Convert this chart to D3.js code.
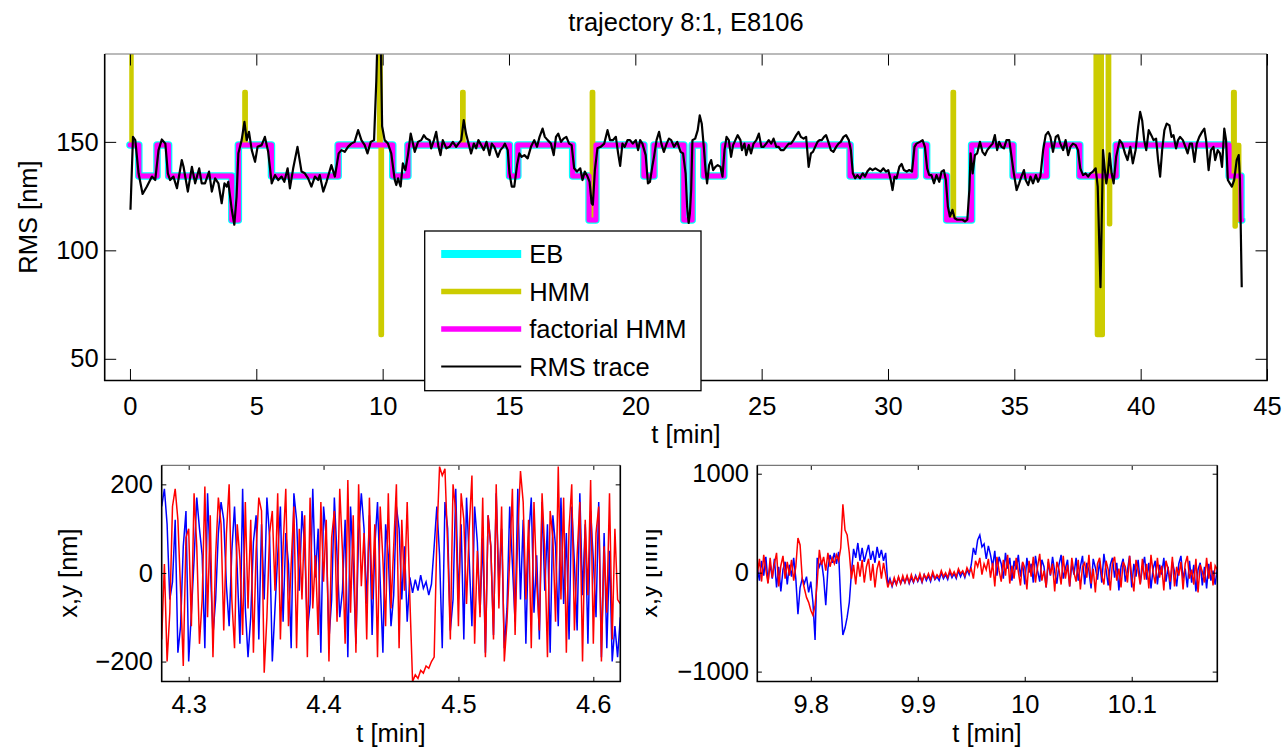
<!DOCTYPE html>
<html>
<head>
<meta charset="utf-8">
<script src="https://cdn.jsdelivr.net/npm/d3@7"></script>
<style>
  body { margin: 0; background: #fff; }
  svg { display: block; }
</style>
</head>
<body>
<div id="chart"></div>
<script>
// ---------- data ----------

// top panel: EB and factorial HMM states coincide, so they share one step trace
const stateTime = [0, 0.35, 1.07, 1.53, 4.03, 4.29, 5.60, 8.24, 10.40, 11.00, 15.02, 15.35, 17.52, 18.17, 18.44,
  20.34, 20.74, 21.92, 22.25, 22.71, 23.50, 28.50, 31.07, 31.53, 32.32, 33.31, 34.95, 36.27, 37.59, 39.03,
  43.50, 43.97, 44.00];
const stateLevel = [148.5, 134.3, 148.5, 134.3, 114, 148.5, 134.3, 148.5, 134.3, 148.5, 134.3, 148.5, 134.3, 114, 148.5,
  134.3, 148.5, 114, 148.5, 134.3, 148.5, 134.3, 148.5, 134.3, 114, 148.5, 134.3, 148.5, 134.3, 148.5,
  134.3, 114, 114];

// plain HMM: same states plus short excursions
const hmmTime = [0, 0.06, 0.35, 1.07, 1.53, 4.03, 4.29, 4.53, 4.58, 5.60, 8.24, 9.86, 9.92, 9.97, 10.40, 11.00,
  13.15, 13.20, 15.02, 15.35, 17.52, 18.17, 18.28, 18.33, 18.44, 20.34, 20.74, 21.92, 22.25, 22.71, 23.50,
  28.50, 31.07, 31.53, 32.32, 32.56, 32.61, 33.31, 34.95, 36.27, 37.59, 38.22, 38.27, 38.32, 38.37, 38.42,
  38.46, 38.50, 38.70, 38.75, 38.79, 39.03, 43.50, 43.66, 43.72, 43.76, 43.90, 44.00];
const hmmLevel = [200, 148.5, 134.3, 148.5, 134.3, 114, 148.5, 173, 148.5, 134.3, 148.5, 200, 61, 148.5, 134.3, 148.5,
  173, 148.5, 134.3, 148.5, 134.3, 114, 173, 114, 148.5, 134.3, 148.5, 114, 148.5, 134.3, 148.5,
  134.3, 148.5, 134.3, 114, 173, 114, 148.5, 134.3, 148.5, 134.3, 200, 61, 200, 61, 200,
  61, 134.3, 200, 112, 134.3, 148.5, 134.3, 173, 111, 148.5, 114, 114];

const rmsTime = [0.02, 0.12, 0.21, 0.34, 0.50, 0.67, 0.87, 1.00, 1.13, 1.26, 1.40, 1.50, 1.59, 1.72, 1.86, 2.05,
  2.12, 2.29, 2.45, 2.58, 2.74, 2.84, 2.97, 3.13, 3.24, 3.37, 3.50, 3.63, 3.74, 3.83, 3.89, 4.03, 4.13, 4.22,
  4.29, 4.42, 4.53, 4.62, 4.71, 4.82, 4.95, 5.05, 5.21, 5.34, 5.47, 5.61, 5.74, 5.87, 6.00, 6.11, 6.24, 6.33,
  6.46, 6.63, 6.79, 6.92, 7.05, 7.18, 7.32, 7.45, 7.51, 7.65, 7.78, 7.97, 8.11, 8.26, 8.37, 8.50, 8.63, 8.76,
  8.89, 9.03, 9.16, 9.29, 9.40, 9.53, 9.66, 9.75, 9.80, 9.92, 9.98, 10.08, 10.21, 10.34, 10.48, 10.54, 10.61,
  10.71, 10.80, 10.90, 11.00, 11.11, 11.20, 11.27, 11.40, 11.53, 11.63, 11.73, 11.86, 11.92, 12.03, 12.12,
  12.21, 12.29, 12.38, 12.52, 12.65, 12.78, 12.91, 13.00, 13.11, 13.21, 13.30, 13.40, 13.50, 13.61, 13.70,
  13.79, 13.90, 14.00, 14.11, 14.23, 14.32, 14.42, 14.56, 14.66, 14.77, 14.84, 14.95, 15.02, 15.11, 15.21,
  15.32, 15.41, 15.50, 15.61, 15.74, 15.87, 16.00, 16.11, 16.21, 16.33, 16.42, 16.53, 16.66, 16.77, 16.86,
  16.95, 17.06, 17.16, 17.27, 17.38, 17.48, 17.58, 17.69, 17.82, 17.91, 18.00, 18.11, 18.19, 18.27, 18.32,
  18.40, 18.50, 18.63, 18.77, 18.90, 19.00, 19.11, 19.23, 19.32, 19.40, 19.49, 19.58, 19.69, 19.79, 19.90,
  20.02, 20.11, 20.19, 20.28, 20.41, 20.50, 20.58, 20.67, 20.74, 20.84, 20.94, 21.03, 21.13, 21.24, 21.33,
  21.42, 21.53, 21.66, 21.79, 21.89, 21.99, 22.05, 22.11, 22.16, 22.21, 22.26, 22.37, 22.47, 22.55, 22.63,
  22.71, 22.78, 22.84, 22.92, 23.00, 23.08, 23.17, 23.26, 23.37, 23.45, 23.53, 23.61, 23.70, 23.79, 23.87,
  23.96, 24.05, 24.16, 24.22, 24.32, 24.39, 24.49, 24.58, 24.68, 24.79, 24.89, 24.99, 25.08, 25.18, 25.28,
  25.38, 25.47, 25.58, 25.67, 25.76, 25.87, 25.97, 26.07, 26.16, 26.26, 26.37, 26.46, 26.55, 26.66, 26.76,
  26.86, 26.95, 27.03, 27.12, 27.21, 27.29, 27.38, 27.47, 27.55, 27.64, 27.74, 27.84, 27.95, 28.04, 28.13,
  28.24, 28.34, 28.45, 28.53, 28.61, 28.70, 28.79, 28.89, 29.00, 29.09, 29.18, 29.29, 29.39, 29.50, 29.61,
  29.71, 29.82, 29.92, 30.01, 30.11, 30.18, 30.26, 30.34, 30.45, 30.54, 30.63, 30.74, 30.84, 30.95, 31.05,
  31.13, 31.26, 31.37, 31.46, 31.55, 31.63, 31.72, 31.82, 31.92, 32.03, 32.12, 32.21, 32.29, 32.37, 32.45,
  32.55, 32.64, 32.74, 32.84, 32.95, 33.05, 33.14, 33.22, 33.27, 33.35, 33.44, 33.53, 33.64, 33.74, 33.84,
  33.93, 34.03, 34.14, 34.23, 34.32, 34.40, 34.49, 34.59, 34.69, 34.80, 34.89, 34.98, 35.09, 35.19, 35.28,
  35.38, 35.45, 35.55, 35.64, 35.74, 35.85, 35.94, 36.03, 36.14, 36.24, 36.34, 36.43, 36.53, 36.64, 36.73,
  36.82, 36.93, 37.03, 37.13, 37.22, 37.32, 37.43, 37.52, 37.61, 37.72, 37.82, 37.92, 38.01, 38.11, 38.22,
  38.30, 38.41, 38.51, 38.57, 38.64, 38.70, 38.77, 38.85, 38.93, 39.03, 39.17, 39.27, 39.38, 39.48, 39.59,
  39.69, 39.80, 39.90, 39.98, 40.06, 40.14, 40.22, 40.32, 40.42, 40.51, 40.61, 40.69, 40.77, 40.85, 40.94,
  41.03, 41.14, 41.22, 41.30, 41.40, 41.48, 41.56, 41.67, 41.77, 41.86, 41.95, 42.03, 42.13, 42.22, 42.32,
  42.43, 42.52, 42.59, 42.69, 42.78, 42.88, 42.95, 43.05, 43.14, 43.22, 43.31, 43.38, 43.45, 43.53, 43.61,
  43.70, 43.80, 43.88, 43.93, 44.00];
const rmsValue = [118.7, 152.3, 150.8, 135.5, 126.0, 129.4, 134.0, 132.4, 146.2, 151.1, 149.2, 135.5, 132.4, 134.0, 128.6, 141.6,
  138.5, 127.1, 138.5, 130.9, 137.8, 130.9, 130.9, 136.3, 127.1, 133.2, 130.9, 121.7, 130.9, 129.4, 131.6, 118.7, 111.8, 124.8,
  144.7, 150.8, 159.2, 150.8, 154.6, 146.2, 140.8, 147.7, 148.5, 152.3, 145.4, 130.9, 134.7, 132.4, 134.0, 131.6, 137.8, 128.6,
  137.8, 147.7, 136.3, 135.5, 133.2, 129.4, 134.0, 132.4, 134.7, 127.1, 131.6, 139.3, 134.0, 144.7, 146.2, 145.4, 147.7, 149.2,
  150.0, 155.4, 150.8, 148.5, 144.7, 150.0, 150.8, 178.3, 200, 200, 157.2, 150.8, 149.2, 144.7, 132.4, 130.1, 133.2,
  129.4, 140.1, 137.0, 143.9, 153.8, 149.2, 145.4, 150.0, 150.8, 153.1, 151.5, 150.8, 147.0, 150.8, 154.6,
  147.7, 143.9, 150.8, 147.0, 147.7, 150.0, 147.7, 149.2, 150.8, 160.0, 153.8, 149.2, 144.7, 149.2, 147.0,
  150.8, 148.5, 146.2, 150.0, 143.9, 149.2, 147.7, 143.1, 146.2, 147.7, 149.2, 146.2, 135.5, 129.4, 129.4,
  139.3, 144.7, 143.1, 143.9, 142.4, 147.7, 150.8, 147.7, 152.3, 156.1, 152.3, 150.8, 149.2, 143.9, 152.3,
  153.8, 150.0, 151.5, 152.3, 149.2, 148.5, 137.8, 136.3, 137.8, 132.4, 136.3, 134.0, 131.6, 121.7, 121.0,
  137.0, 147.0, 147.7, 149.2, 155.4, 150.8, 150.8, 152.3, 144.7, 138.9, 149.2, 147.7, 150.8, 150.8, 149.2,
  150.8, 146.2, 150.8, 149.2, 143.9, 130.9, 131.6, 138.5, 143.1, 150.8, 154.6, 149.2, 145.4, 149.2, 151.5,
  150.8, 147.7, 150.0, 145.4, 144.7, 135.5, 120.2, 112.6, 117.1, 127.8, 150.8, 151.5, 155.4, 162.2, 158.4,
  147.7, 137.0, 130.9, 139.3, 141.6, 137.0, 138.5, 139.3, 138.5, 134.0, 146.2, 152.3, 150.8, 143.1, 148.5,
  150.8, 153.1, 150.8, 146.2, 149.2, 143.9, 148.5, 144.7, 149.2, 150.8, 153.8, 147.7, 147.7, 149.2, 150.8,
  149.2, 151.5, 147.7, 147.7, 146.2, 146.2, 147.7, 149.2, 149.2, 150.8, 153.1, 154.6, 152.3, 151.5, 152.3,
  138.5, 144.7, 145.4, 147.7, 150.0, 150.8, 150.8, 152.3, 153.1, 150.0, 146.2, 145.4, 147.7, 149.2, 150.0,
  152.3, 153.1, 150.8, 146.2, 135.5, 133.2, 134.7, 133.2, 135.5, 134.0, 136.3, 137.8, 137.0, 137.8, 137.0,
  136.3, 137.8, 136.3, 137.0, 132.4, 127.8, 134.0, 133.2, 138.5, 139.8, 137.0, 136.3, 137.0, 136.3, 147.7,
  149.2, 150.0, 150.8, 147.7, 137.8, 134.7, 134.7, 130.9, 134.7, 131.6, 136.3, 137.0, 132.4, 120.2, 115.6,
  118.7, 114.8, 114.1, 114.1, 114.1, 113.3, 114.1, 127.8, 144.7, 135.5, 143.9, 144.7, 150.0, 145.4, 143.9,
  146.2, 147.7, 149.2, 153.1, 146.2, 150.0, 147.7, 147.0, 150.8, 150.8, 143.1, 135.5, 127.8, 130.9, 134.0,
  137.0, 132.4, 130.1, 134.0, 130.9, 134.7, 131.6, 134.0, 146.2, 153.1, 154.6, 152.3, 145.4, 152.3, 153.1,
  149.2, 146.2, 150.8, 143.9, 147.7, 149.2, 148.5, 146.2, 137.8, 134.7, 135.5, 134.0, 135.5, 136.3, 137.8,
  129.4, 83.0, 146.2, 138.5, 130.9, 135.5, 144.7, 135.5, 130.9, 143.1, 150.8, 149.2, 144.7, 141.6, 147.7,
  140.1, 146.2, 156.9, 163.8, 159.9, 150.8, 146.2, 155.4, 153.1, 150.8, 151.5, 141.6, 134.0, 146.2, 155.4,
  158.4, 157.6, 152.3, 153.1, 147.0, 150.8, 152.3, 150.8, 147.7, 144.7, 149.2, 149.2, 140.8, 149.2, 152.3,
  154.6, 156.1, 150.8, 137.0, 146.2, 147.7, 141.6, 146.2, 144.7, 138.5, 156.1, 150.8, 132.4, 130.9, 129.4,
  132.4, 141.6, 143.9, 132.4, 83.0];

const topXTicks = [0, 5, 10, 15, 20, 25, 30, 35, 40, 45];
const topYTicks = [50, 100, 150];
const legendLabels = ["EB", "HMM", "factorial HMM", "RMS trace"];

// bottom left: x (blue) and y (red) positions around t = 4.3 min
const leftTime = [4.280, 4.282, 4.284, 4.286, 4.288, 4.290, 4.292, 4.294, 4.296, 4.298,
  4.300, 4.302, 4.304, 4.306, 4.308, 4.310, 4.312, 4.314, 4.316, 4.318,
  4.320, 4.322, 4.324, 4.326, 4.328, 4.330, 4.332, 4.334, 4.336, 4.338,
  4.340, 4.342, 4.344, 4.346, 4.348, 4.350, 4.352, 4.354, 4.356, 4.358,
  4.360, 4.362, 4.364, 4.366, 4.368, 4.370, 4.372, 4.374, 4.376, 4.378,
  4.380, 4.382, 4.384, 4.386, 4.388, 4.390, 4.392, 4.394, 4.396, 4.398,
  4.400, 4.402, 4.404, 4.406, 4.408, 4.410, 4.412, 4.414, 4.416, 4.418,
  4.420, 4.422, 4.424, 4.426, 4.428, 4.430, 4.432, 4.434, 4.436, 4.438,
  4.440, 4.442, 4.444, 4.446, 4.448, 4.450, 4.452, 4.454, 4.456, 4.458,
  4.460, 4.462, 4.464, 4.466, 4.468, 4.470, 4.472, 4.474, 4.476, 4.478,
  4.480, 4.482, 4.484, 4.486, 4.488, 4.490, 4.492, 4.494, 4.496, 4.498,
  4.500, 4.502, 4.504, 4.506, 4.508, 4.510, 4.512, 4.514, 4.516, 4.518,
  4.520, 4.522, 4.524, 4.526, 4.528, 4.530, 4.532, 4.534, 4.536, 4.538,
  4.540, 4.542, 4.544, 4.546, 4.548, 4.550, 4.552, 4.554, 4.556, 4.558,
  4.560, 4.562, 4.564, 4.566, 4.568, 4.570, 4.572, 4.574, 4.576, 4.578,
  4.580, 4.582, 4.584, 4.586, 4.588, 4.590, 4.592, 4.594, 4.596, 4.598,
  4.600, 4.602, 4.604, 4.606, 4.608, 4.610, 4.612, 4.614, 4.616, 4.618,
  4.620];
const leftX = [150, 190, 110, -60, -20, 120, -180, -120, 60, 140,
  -200, -90, 30, 170, 100, 40, -170, 180, 20, -140,
  -60, 90, 160, 120, -30, -120, 50, 150, 10, -160,
  190, -80, -190, -100, 70, 130, -150, 110, -60, 170,
  80, -200, -80, 40, 150, -110, 90, 20, -170, 180,
  120, -40, 140, 60, -130, -70, 190, -10, 100, -180,
  150, 80, -150, -60, 170, 40, -100, -40, 120, -190,
  150, 20, -160, 90, 180, 100, -70, 130, -140, 60,
  160, -20, -180, 110, 40, -120, -50, 150, 100, -60,
  60, -110, -10, -45, -15, -40, -5, -35, -20, -50,
  -25, 60, 150, 40, -170, 160, 100, -130, -60, 190,
  -60, 110, -150, 170, 30, -120, 150, 70, -90, 80,
  -180, 130, 60, -140, 180, -30, 100, -170, -80, 150,
  20, -110, 190, -60, 120, -160, 80, 170, -90, 40,
  -150, 160, -40, 110, -180, 130, 60, -120, 170, -70,
  90, -150, 150, 20, -130, 180, -50, 110, -160, 140,
  30, -100, 160, -190, 90, -170, 50, -200, -120, -190,
  -100];
const leftY = [-150, 20, -200, -90, 150, 190, 120, -40, -210, 80,
  100, -120, 180, 60, -160, -60, 195, -100, 130, -190,
  40, 170, 110, -130, 90, 200, -60, -170, 110, 30,
  -140, 160, -80, 120, -180, 50, 170, 140, -225, -100,
  90, 140, -40, 180, -150, 60, 190, -120, 20, 150,
  -170, 100, -60, 130, -190, 170, -80, 40, -140, 160,
  -20, 120, -200, 80, 140, -110, 190, 50, -160, 210,
  -90, 130, -180, 200, -30, 90, -150, 170, -60, 110,
  -190, 150, 30, -120, 180, -80, 60, 200, -170, 120,
  -40, 160, -60, -245, -230, -238, -220, -226, -210, -215,
  -200, -190, 80, 240, 220, 235, 60, -150, 200, 140,
  -120, 180, 120, -70, 100, 220, -160, 50, -100, 170,
  -190, 130, 60, -150, 200, -80, 150, -200, -110, 30,
  190, -140, 90, 230, 160, -60, 120, -170, 160, -20,
  -130, 180, 50, -190, 140, 80, -110, 240, -60, 170,
  -180, 100, 200, -130, 40, 160, -200, 120, -50, 210,
  -160, 90, 150, -200, 60, -90, 180, -150, 100, -60,
  -70];
const leftXTicks = [4.3, 4.4, 4.5, 4.6];
const leftYTicks = [-200, 0, 200];

// bottom right: around t = 10 min
const rightTime = [9.750, 9.752, 9.754, 9.756, 9.758, 9.760, 9.762, 9.764, 9.766, 9.768,
  9.770, 9.772, 9.774, 9.776, 9.778, 9.780, 9.782, 9.784, 9.786, 9.788,
  9.790, 9.792, 9.794, 9.796, 9.798, 9.800, 9.802, 9.804, 9.806, 9.808,
  9.810, 9.812, 9.814, 9.816, 9.818, 9.820, 9.822, 9.824, 9.826, 9.828,
  9.830, 9.832, 9.834, 9.836, 9.838, 9.840, 9.842, 9.844, 9.846, 9.848,
  9.850, 9.852, 9.854, 9.856, 9.858, 9.860, 9.862, 9.864, 9.866, 9.868,
  9.870, 9.872, 9.874, 9.876, 9.878, 9.880, 9.882, 9.884, 9.886, 9.888,
  9.890, 9.892, 9.894, 9.896, 9.898, 9.900, 9.902, 9.904, 9.906, 9.908,
  9.910, 9.912, 9.914, 9.916, 9.918, 9.920, 9.922, 9.924, 9.926, 9.928,
  9.930, 9.932, 9.934, 9.936, 9.938, 9.940, 9.942, 9.944, 9.946, 9.948,
  9.950, 9.952, 9.954, 9.956, 9.958, 9.960, 9.962, 9.964, 9.966, 9.968,
  9.970, 9.972, 9.974, 9.976, 9.978, 9.980, 9.982, 9.984, 9.986, 9.988,
  9.990, 9.992, 9.994, 9.996, 9.998, 10.000, 10.002, 10.004, 10.006, 10.008,
  10.010, 10.012, 10.014, 10.016, 10.018, 10.020, 10.022, 10.024, 10.026, 10.028,
  10.030, 10.032, 10.034, 10.036, 10.038, 10.040, 10.042, 10.044, 10.046, 10.048,
  10.050, 10.052, 10.054, 10.056, 10.058, 10.060, 10.062, 10.064, 10.066, 10.068,
  10.070, 10.072, 10.074, 10.076, 10.078, 10.080, 10.082, 10.084, 10.086, 10.088,
  10.090, 10.092, 10.094, 10.096, 10.098, 10.100, 10.102, 10.104, 10.106, 10.108,
  10.110, 10.112, 10.114, 10.116, 10.118, 10.120, 10.122, 10.124, 10.126, 10.128,
  10.130, 10.132, 10.134, 10.136, 10.138, 10.140, 10.142, 10.144, 10.146, 10.148,
  10.150, 10.152, 10.154, 10.156, 10.158, 10.160, 10.162, 10.164, 10.166, 10.168,
  10.170, 10.172, 10.174, 10.176, 10.178, 10.180];
const rightX = [50, -80, 120, -30, 160, -100, 90, -60, 140, -150,
  60, -190, 30, 110, -120, 80, -40, 150, -60, -420,
  -150, -60, -110, -40, -200, -90, -300, -680, 150, 60,
  120, -50, -330, 40, 180, 100, 200, 90, 210, -300,
  -630, -560, -450, -300, 0, 240, 150, 300, 120, 250,
  110, 200, 280, 130, 220, 100, 260, 150, 230, 120,
  200, -120, -60, -140, -70, -120, -50, -110, -60, -100,
  -40, -110, -50, -100, -30, -90, -40, -100, -20, -80,
  -30, -90, -10, -70, -40, -80, 0, -60, -20, -70,
  10, -50, -10, -60, 20, -40, 10, -50, 30, -20,
  80, 250, 180, 330, 380, 260, 290, 140, 270, 180,
  60, 220, -30, 160, 90, -60, 200, 40, 150, -80,
  120, 30, 180, -40, 100, -120, 150, 0, 90, -100,
  170, 20, -90, 130, 60, -150, 110, -30, 160, 10,
  -110, 80, 180, -60, 40, 130, -140, 90, -20, 150,
  -80, 60, 170, -120, 100, 20, -160, 140, 50, -70,
  120, -100, 190, 30, -130, 80, 150, -50, 100, -180,
  60, 140, -90, 20, 170, -150, 90, -40, 130, -110,
  50, 160, -70, 100, -160, 40, 120, -120, 80, -20,
  150, -90, 60, -170, 110, 10, -140, 90, 170, -60,
  40, -150, 120, -100, 80, -190, 30, 100, -130, 60,
  -160, 90, -80, 20, -120, 40];
const rightY = [-20, 140, -90, 180, 30, -110, 150, -50, 90, 200,
  -140, 70, 170, -60, 110, -30, 130, -80, 60, 350,
  280, -60, -160, -250, -300, -380, -430, -330, -100, 230,
  80, 160, 20, 200, 60, 150, 90, 180, 120, 250,
  690, 430, 380, 200, -60, 80, -120, 110, -40, 130,
  -100, 60, 140, -80, 90, -150, 40, 120, -60, 100,
  -20, -150, -80, -130, -50, -120, -40, -110, -30, -100,
  -30, -100, -20, -90, -40, -80, -10, -90, -20, -60,
  -10, -70, 10, -60, -20, -50, 20, -40, 0, -50,
  30, -30, 10, -40, 40, -10, 20, -30, 50, 0,
  40, -60, 120, 60, 150, -20, 90, 30, 140, -50,
  100, -140, 160, 20, -90, 130, -30, 180, -110, 70,
  -60, 150, 10, -130, 110, 50, -170, 120, -40, 160,
  -100, 60, 190, -80, 20, -150, 140, -20, 90, -190,
  110, 30, -120, 170, -60, 80, -140, 150, 0, -90,
  130, -170, 60, 100, -50, 180, -110, 40, -200, 90,
  150, -30, -120, 120, 30, -180, 100, 160, -80, 40,
  -150, 110, 60, -100, 170, -40, -190, 130, 20, -120,
  140, -70, 90, -160, 180, 0, -110, 150, -50, 70,
  -180, 120, 40, -90, 160, -140, 60, -30, 110, -170,
  90, 170, -60, 30, -120, 140, -200, 80, 10, -100,
  150, -60, 110, -130, 70, 30];
const rightXTicks = [9.8, 9.9, 10, 10.1];
const rightYTicks = [-1000, 0, 1000];

// ---------- drawing ----------
const FONT = '"Liberation Sans", Arial, Helvetica, sans-serif';
const FS = 25.5;

const svg = d3.select("#chart").append("svg")
    .attr("width", 1286)
    .attr("height", 753)
    .style("font-family", FONT);
const defs = svg.append("defs");
let clipCount = 0;

// MATLAB-like axes: boxed, ticks pointing inward on all four sides
function makeAxes(box, xDomain, yDomain, xTicks, yTicks, tickLen, xPad, yPad) {
    const x = d3.scaleLinear().domain(xDomain).range([box.left, box.right]);
    const y = d3.scaleLinear().domain(yDomain).range([box.bottom, box.top]);
    const g = svg.append("g");

    const id = "clip" + clipCount++;
    defs.append("clipPath").attr("id", id).append("rect")
        .attr("x", box.left).attr("y", box.top)
        .attr("width", box.right - box.left).attr("height", box.bottom - box.top);
    const plot = g.append("g").attr("clip-path", `url(#${id})`);

    const fmt = d3.format("~g");
    const axes = g.append("g");
    axes.append("g").attr("transform", `translate(0,${box.bottom})`)
        .call(d3.axisBottom(x).tickValues(xTicks).tickSize(-tickLen).tickPadding(xPad).tickFormat(fmt));
    axes.append("g").attr("transform", `translate(0,${box.top})`)
        .call(d3.axisTop(x).tickValues(xTicks).tickSize(-tickLen).tickFormat(""));
    axes.append("g").attr("transform", `translate(${box.left},0)`)
        .call(d3.axisLeft(y).tickValues(yTicks).tickSize(-tickLen).tickPadding(yPad).tickFormat(fmt));
    axes.append("g").attr("transform", `translate(${box.right},0)`)
        .call(d3.axisRight(y).tickValues(yTicks).tickSize(-tickLen).tickFormat(""));
    axes.selectAll(".domain").remove();
    axes.selectAll(":scope > g").attr("font-family", null).attr("font-size", FS);
    axes.selectAll("text").attr("fill", "#000");
    axes.selectAll(".tick line").attr("stroke", "#000").attr("stroke-width", 1);

    // frame
    axes.append("line").attr("x1", box.left).attr("x2", box.right).attr("y1", box.top).attr("y2", box.top)
        .attr("stroke", "#777").attr("stroke-width", 1.2);
    axes.append("path")
        .attr("d", `M${box.left},${box.top}V${box.bottom}H${box.right}V${box.top}`)
        .attr("fill", "none").attr("stroke", "#000").attr("stroke-width", 1.6);

    return { x, y, plot, g, box };
}

function addText(txt, x, y, rotate, clip) {
    const holder = svg.append("g");
    if (clip) holder.attr("clip-path", clip);
    return holder.append("text")
        .attr("transform", `translate(${x},${y})` + (rotate ? " rotate(-90)" : ""))
        .attr("text-anchor", "middle")
        .attr("font-size", FS)
        .attr("fill", "#000")
        .text(txt);
}

// ----- top panel -----
const topPanel = makeAxes({ left: 104.7, right: 1267, top: 54, bottom: 380.5 },
    [-1, 45], [40, 190.5], topXTicks, topYTicks, 11.5, 16, 6);

const stepLine = (times) => d3.line()
    .x((d, i) => topPanel.x(times[i]))
    .y(d => topPanel.y(d))
    .curve(d3.curveStepAfter);

topPanel.plot.append("path").datum(stateLevel)
    .attr("d", stepLine(stateTime))
    .attr("fill", "none").attr("stroke", "#00ffff").attr("stroke-width", 7.5)
    .attr("stroke-linejoin", "round").attr("stroke-linecap", "round");
topPanel.plot.append("path").datum(hmmLevel)
    .attr("d", stepLine(hmmTime))
    .attr("fill", "none").attr("stroke", "#cccc00").attr("stroke-width", 4.5)
    .attr("stroke-linejoin", "round").attr("stroke-linecap", "round");
topPanel.plot.append("path").datum(stateLevel)
    .attr("d", stepLine(stateTime))
    .attr("fill", "none").attr("stroke", "#ff00ff").attr("stroke-width", 5)
    .attr("stroke-linejoin", "round").attr("stroke-linecap", "round");
topPanel.plot.append("path").datum(rmsValue)
    .attr("d", d3.line().x((d, i) => topPanel.x(rmsTime[i])).y(d => topPanel.y(d)))
    .attr("fill", "none").attr("stroke", "#000").attr("stroke-width", 2.2)
    .attr("stroke-linejoin", "round");

// legend
const legendStyle = [
    { color: "#00ffff", width: 8 },
    { color: "#cccc00", width: 5.5 },
    { color: "#ff00ff", width: 5.5 },
    { color: "#000000", width: 2.2 }
];
const legend = svg.append("g").attr("transform", "translate(424.7,231)");
legend.append("rect").attr("width", 276.3).attr("height", 159.7)
    .attr("fill", "#fff").attr("stroke", "#000").attr("stroke-width", 1.3);
const rows = legend.selectAll(".row").data(legendLabels).enter().append("g")
    .attr("class", "row")
    .attr("transform", (d, i) => `translate(0,${23 + i * 37.5})`);
rows.append("line").attr("x1", 16.5).attr("x2", 96.5)
    .attr("stroke", (d, i) => legendStyle[i].color)
    .attr("stroke-width", (d, i) => legendStyle[i].width);
rows.append("text").attr("x", 104.5).attr("dy", "0.36em")
    .attr("font-size", FS).attr("fill", "#000").text(d => d);

addText("trajectory 8:1, E8106", 686, 31);
addText("t [min]", 686, 443);
addText("RMS [nm]", 37, 217, true);

// ----- bottom panels -----
function drawTraces(p, times, xs, ys) {
    const line = d3.line().x((d, i) => p.x(times[i])).y(d => p.y(d));
    p.plot.append("path").datum(xs).attr("d", line)
        .attr("fill", "none").attr("stroke", "#0000ff").attr("stroke-width", 1.5);
    p.plot.append("path").datum(ys).attr("d", line)
        .attr("fill", "none").attr("stroke", "#ff0000").attr("stroke-width", 1.5);
}

const leftPanel = makeAxes({ left: 161.7, right: 620.3, top: 465.3, bottom: 681.5 },
    [4.28, 4.62], [-245, 243], leftXTicks, leftYTicks, 4.6, 13.5, 8.8);
drawTraces(leftPanel, leftTime, leftX, leftY);

const rightPanel = makeAxes({ left: 757.3, right: 1217.3, top: 465.3, bottom: 681.5 },
    [9.75, 10.18], [-1100, 1085], rightXTicks, rightYTicks, 4.6, 13.5, 8.3);
drawTraces(rightPanel, rightTime, rightX, rightY);

addText("t [min]", 391, 742);
addText("t [min]", 987, 742);
addText("x,y [nm]", 77, 573, true);

// the right-hand y label is cut off on its left side in the original
defs.append("clipPath").attr("id", "labelclip").append("rect")
    .attr("x", 646).attr("y", 450).attr("width", 100).attr("height", 250);
addText("x,y [nm]", 657, 573, true, "url(#labelclip)");
</script>
</body>
</html>
